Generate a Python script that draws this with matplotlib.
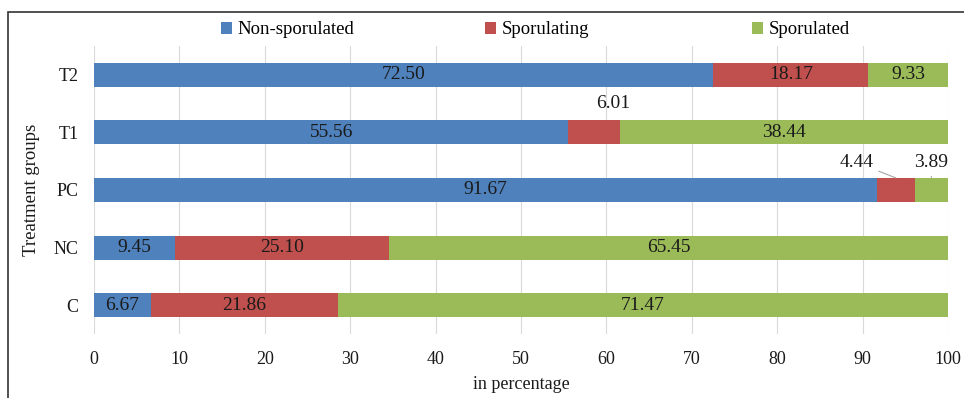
import matplotlib.pyplot as plt
from matplotlib.patches import Rectangle

plt.rcParams['font.family'] = ['Liberation Serif', 'DejaVu Serif']

# data
groups = ["C", "NC", "PC", "T1", "T2"]
non_sporulated = [6.67, 9.45, 91.67, 55.56, 72.50]
sporulating = [21.86, 25.10, 4.44, 6.01, 18.17]
sporulated = [71.47, 65.45, 3.89, 38.44, 9.33]

series = ["Non-sporulated", "Sporulating", "Sporulated"]
colors = ["#4F81BD", "#C0504D", "#9BBB59"]

txt = "#1a1a1a"

fig = plt.figure(figsize=(9.64, 3.98), dpi=100)
ax = fig.add_axes([94/964, 1 - 334/398, (948 - 94)/964, (334 - 46)/398])

# outer frame (cropped on right/bottom in the original)
fig.patches.append(Rectangle((8/964, -0.05), 1.1, 1 - 12/398 + 0.05,
                             transform=fig.transFigure, fill=False,
                             edgecolor="#333333", linewidth=1.2))

y = range(len(groups))
left = [0] * len(groups)
bars = []
for name, vals, c in zip(series, [non_sporulated, sporulating, sporulated], colors):
    b = ax.barh(y, vals, left=left, height=0.42, color=c, label=name, zorder=3)
    bars.append(b)
    left = [l + v for l, v in zip(left, vals)]

# labels inside bars
for bi, vals in enumerate([non_sporulated, sporulating, sporulated]):
    for i, v in enumerate(vals):
        if groups[i] == "PC" and bi > 0:
            continue
        if groups[i] == "T1" and bi == 1:
            continue
        rect = bars[bi][i]
        cx = rect.get_x() + rect.get_width() / 2
        ax.text(cx, i, f"{v:.2f}", ha="center", va="center",
                fontsize=14, color=txt, zorder=4)

# outside labels
t1 = groups.index("T1")
r = bars[1][t1]
ax.text(r.get_x() + r.get_width() / 2 + 2.2, t1 + 0.5, f"{sporulating[t1]:.2f}",
        ha="center", va="center", fontsize=14, color=txt)

pc = groups.index("PC")
r = bars[1][pc]
ax.annotate(f"{sporulating[pc]:.2f}",
            xy=(r.get_x() + r.get_width() / 2, pc + 0.21),
            xytext=(r.get_x() - 2.4, pc + 0.48), ha="center", va="center",
            fontsize=14, color=txt,
            arrowprops=dict(arrowstyle="-", color="#a6a6a6", lw=0.8,
                            shrinkA=2, shrinkB=0))
r = bars[2][pc]
ax.annotate(f"{sporulated[pc]:.2f}",
            xy=(r.get_x() + r.get_width() / 2, pc + 0.21),
            xytext=(r.get_x() + r.get_width() / 2, pc + 0.48), ha="center", va="center",
            fontsize=14, color=txt,
            arrowprops=dict(arrowstyle="-", color="#a6a6a6", lw=0.8,
                            shrinkA=2, shrinkB=0))

ax.set_xlim(0, 100)
ax.set_ylim(-0.5, len(groups) - 0.5)
ax.set_xticks(range(0, 101, 10))
ax.set_yticks(list(y))
ax.set_yticklabels(groups)
ax.tick_params(axis="both", length=0, labelsize=13, colors=txt)
ax.tick_params(axis="x", pad=12)
ax.tick_params(axis="y", pad=11)
ax.grid(axis="x", color="#d9d9d9", linewidth=0.8, zorder=0)
for s in ax.spines.values():
    s.set_visible(False)

ax.set_xlabel("in percentage", fontsize=13, color=txt, labelpad=6)
ax.set_ylabel("Treatment groups", fontsize=13.5, color=txt, labelpad=10)

# legend entries in equal-width slots like the original
handles, labels = ax.get_legend_handles_labels()
slots = [(221 - 94) / 854, (485 - 94) / 854, (752 - 94) / 854]
legs = []
for h, lab, xs in zip(handles, labels, slots):
    leg = ax.legend([h], [lab], loc="center left", bbox_to_anchor=(xs, 1 + 16/288),
                    frameon=False, fontsize=13.5, handlelength=0.6, handleheight=0.6,
                    handletextpad=0.3, borderpad=0, borderaxespad=0)
    legs.append(leg)
for leg in legs[:-1]:
    ax.add_artist(leg)

fig.savefig("out.png", dpi=100)
